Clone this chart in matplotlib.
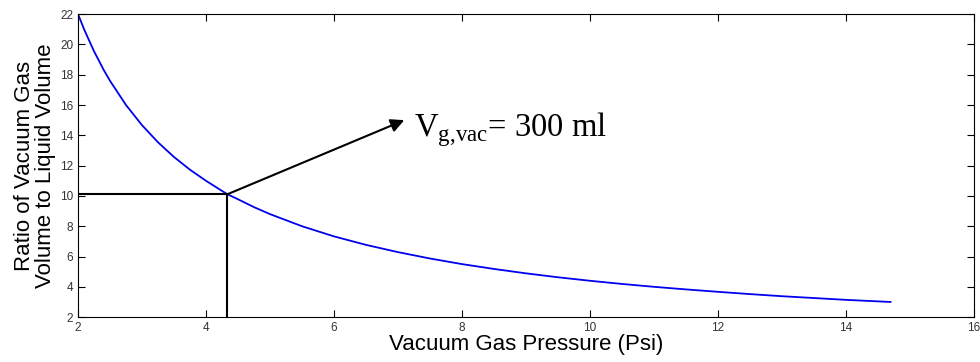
import matplotlib
matplotlib.use('Agg')
import matplotlib.pyplot as plt

# Dados
pressao = [2.0, 2.1, 2.25, 2.4, 2.5, 2.75, 3.0, 3.25, 3.5, 3.75, 4.0, 4.33,
           4.5, 4.75, 5.0, 5.5, 6.0, 6.5, 7.0, 7.5, 8.0, 8.5, 9.0, 9.5,
           10.0, 10.5, 11.0, 11.5, 12.0, 12.5, 13.0, 13.5, 14.0, 14.7]
razao = [22.0, 20.95, 19.55, 18.33, 17.6, 16.0, 14.67, 13.54, 12.57, 11.73,
         11.0, 10.12, 9.78, 9.26, 8.8, 8.0, 7.33, 6.77, 6.29, 5.87, 5.5, 5.18,
         4.89, 4.63, 4.4, 4.19, 4.0, 3.83, 3.67, 3.52, 3.38, 3.26, 3.14, 3.0]
ponto_x, ponto_y = 4.33, 10.1
seta_x, seta_y = 7.1, 15.0

plt.rcParams['font.family'] = ['Liberation Sans', 'DejaVu Sans']
plt.rcParams['mathtext.fontset'] = 'custom'
plt.rcParams['mathtext.rm'] = 'Liberation Serif'

fig = plt.figure(figsize=(9.8, 3.62), dpi=100)
ax = fig.add_axes([0.0796, 0.124, 0.914, 0.837])

ax.plot(pressao, razao, color='#0000ee', lw=1.3)
ax.plot([2, ponto_x], [ponto_y, ponto_y], color='black', lw=1.5)
ax.plot([ponto_x, ponto_x], [2, ponto_y], color='black', lw=1.5)
ax.annotate('', xy=(seta_x, seta_y), xytext=(ponto_x, ponto_y),
            arrowprops=dict(arrowstyle='-|>', color='black', lw=1.5,
                            mutation_scale=20, shrinkA=0, shrinkB=0))
ax.text(7.25, 14.4, r'V$_{\mathrm{g{,}vac}}$= 300 ml', fontsize=23.5,
        family='Liberation Serif', va='center')

ax.set_xlim(2, 16)
ax.set_ylim(2, 22)
ax.set_xticks(range(2, 17, 2))
ax.set_yticks(range(2, 23, 2))
ax.tick_params(direction='in', labelsize=8.5, labelcolor='#333333', length=5)
ax.tick_params(top=True, right=True)
ax.set_xlabel('Vacuum Gas Pressure (Psi)', fontsize=16, labelpad=0)
ax.set_ylabel('Ratio of Vacuum Gas\nVolume to Liquid Volume', fontsize=16,
              labelpad=3, linespacing=1.0)

fig.savefig('out.png', dpi=100)
